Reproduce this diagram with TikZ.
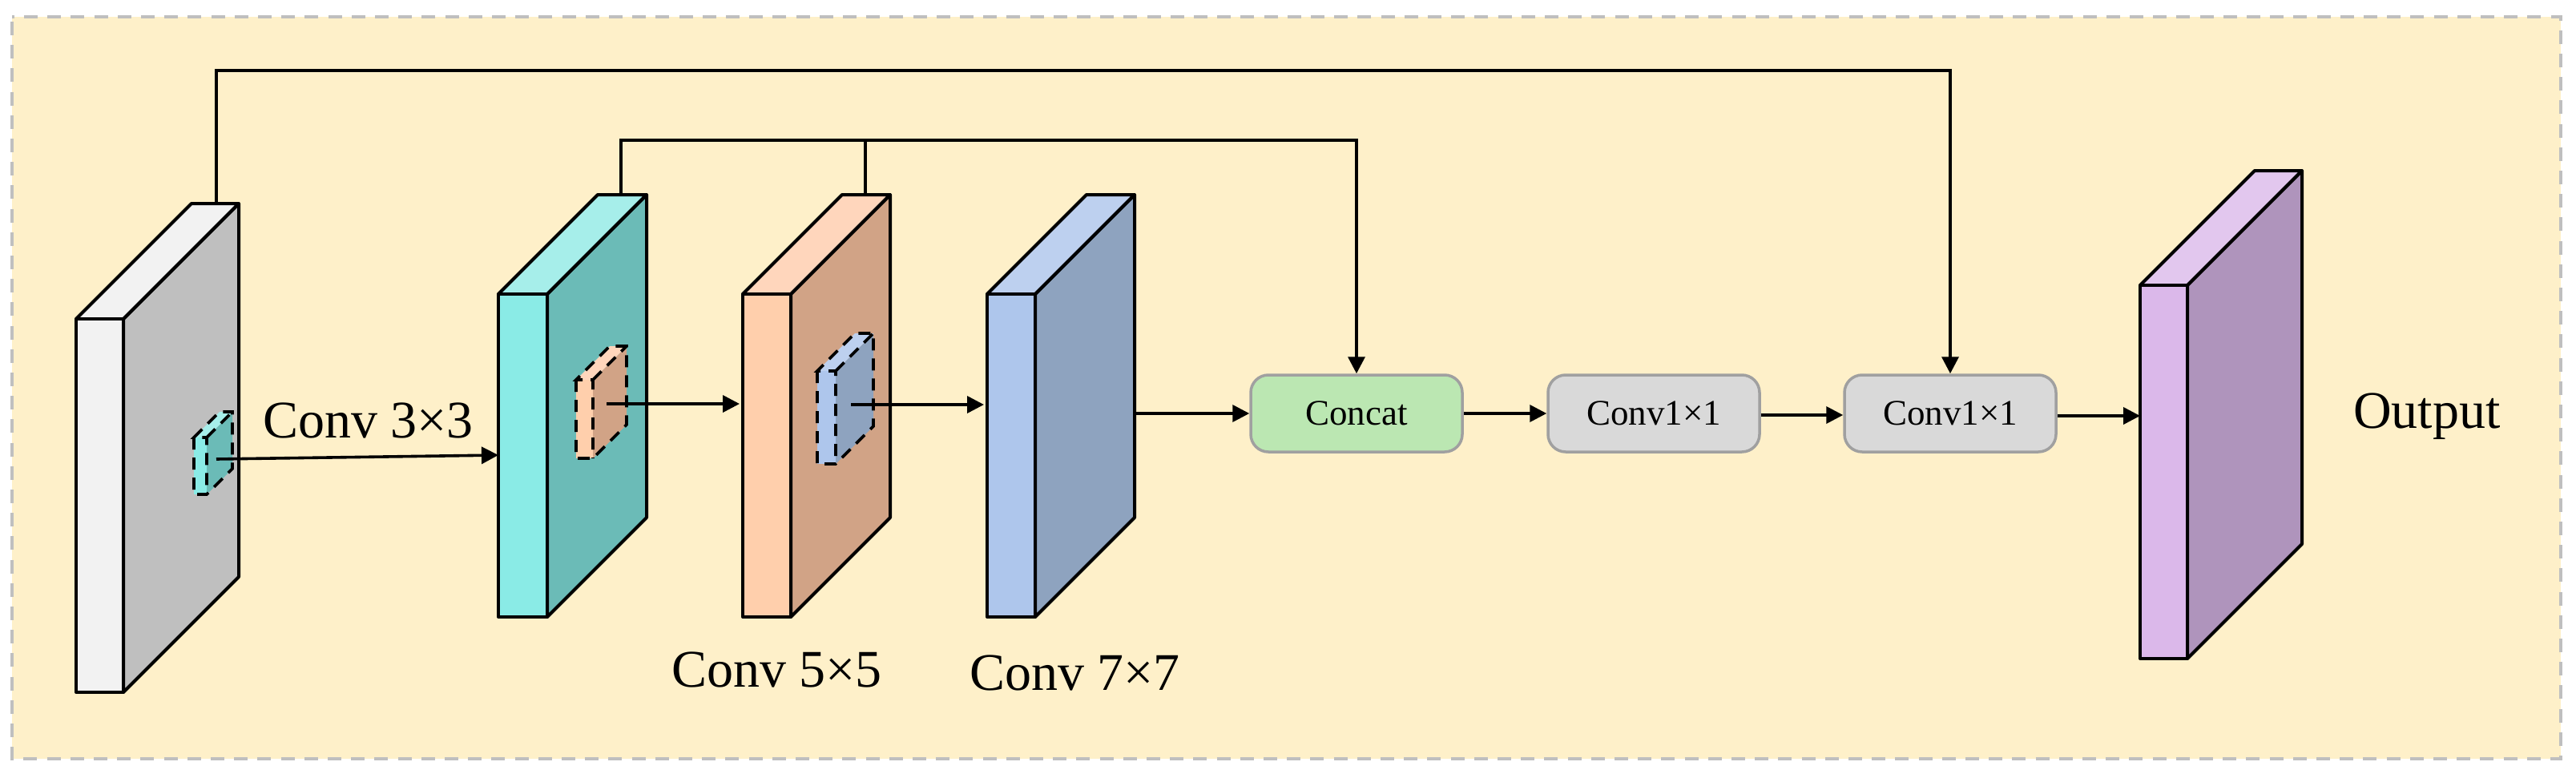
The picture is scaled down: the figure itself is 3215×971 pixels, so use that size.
\documentclass[tikz,border=0pt]{standalone}
\usepackage{fontspec}
\setmainfont{Liberation Serif}
\usetikzlibrary{arrows.meta,calc}
\definecolor{bgc}{HTML}{FEF0C9}
\definecolor{framec}{HTML}{BFBFBF}
\definecolor{gf}{HTML}{F2F2F2}\definecolor{gt}{HTML}{F2F2F2}\definecolor{gs}{HTML}{BFBFBF}
\definecolor{cf}{HTML}{8AEBE6}\definecolor{ct}{HTML}{A6EEEA}\definecolor{cs}{HTML}{6BBBB7}
\definecolor{of}{HTML}{FFCFAC}\definecolor{ot}{HTML}{FFD6BC}\definecolor{os}{HTML}{D1A386}
\definecolor{bf}{HTML}{AEC6EC}\definecolor{bt}{HTML}{BDD0EF}\definecolor{bs}{HTML}{8EA3BF}
\definecolor{pf}{HTML}{DBB8EA}\definecolor{pt}{HTML}{E2C7EE}\definecolor{ps}{HTML}{AF94BC}
\definecolor{concatc}{HTML}{BBE7B2}\definecolor{convc}{HTML}{D9D9D9}\definecolor{edgec}{HTML}{A0A0A0}
\newcommand{\slab}[9]{%
  \coordinate (#1fl) at (#2,#4);\coordinate (#1fr) at (#3,#4);
  \coordinate (#1bl) at (#2,#5);\coordinate (#1br) at (#3,#5);
  \coordinate (#1tl) at ($(#1fl)+(#6,-#6)$);\coordinate (#1tr) at ($(#1fr)+(#6,-#6)$);
  \coordinate (#1sb) at ($(#1br)+(#6,-#6)$);
  \path[fill=#9,slabline] (#1fr) -- (#1tr) -- (#1sb) -- (#1br) -- cycle;
  \path[fill=#8,slabline] (#1fl) -- (#1tl) -- (#1tr) -- (#1fr) -- cycle;
  \path[fill=#7,slabline] (#1fl) -- (#1fr) -- (#1br) -- (#1bl) -- cycle;
}
\tikzset{
  x=1pt,y=-1pt,
  slabline/.style={draw=black,line width=4pt,line join=round},
  conn/.style={draw=black,line width=3.6pt},
  arr/.style={conn,-{Triangle[length=21pt,width=21pt]}},
  opbox/.style={draw=edgec,line width=3.5pt,rounded corners=22pt,minimum width=264pt,minimum height=96pt,inner sep=0pt,font=\fontsize{45}{50}\selectfont},
  lbl/.style={inner sep=0pt,anchor=base west,font=\fontsize{66}{70}\selectfont},
}
\newcommand{\patch}[9]{%
  \coordinate (#1fl) at (#2,#4);\coordinate (#1fr) at (#3,#4);
  \coordinate (#1bl) at (#2,#5);\coordinate (#1br) at (#3,#5);
  \coordinate (#1tl) at ($(#1fl)+(#6,-#6)$);\coordinate (#1tr) at ($(#1fr)+(#6,-#6)$);
  \coordinate (#1sb) at ($(#1br)+(#6,-#6)$);
  \fill[#9] (#1fr) -- (#1tr) -- (#1sb) -- (#1br) -- cycle;
  \fill[#8] (#1fl) -- (#1tl) -- (#1tr) -- (#1fr) -- cycle;
  \fill[#7] (#1fl) -- (#1fr) -- (#1br) -- (#1bl) -- cycle;
  \draw[black,line width=3.6pt,dash pattern=on 15pt off 10pt]
    (#1fl) -- (#1bl) -- (#1br) -- (#1sb) -- (#1tr) -- (#1tl) -- (#1fl) -- (#1fr) -- (#1br)
    (#1fr) -- (#1tr);
}
\begin{document}
\begin{tikzpicture}
\useasboundingbox (0,0) rectangle (3215,971);
\fill[white] (0,0) rectangle (3215,971);
\fill[bgc] (15,21) rectangle (3196,947);
\draw[framec,line width=4.5pt,dash pattern=on 17pt off 12.2pt,dash phase=-6pt] (15,21) rectangle (3196,947);

\slab{a}{95}{154}{398}{864}{144}{gf}{gt}{gs}
\slab{b}{622}{683}{367}{770}{124}{cf}{ct}{cs}
\slab{c}{927}{987}{367}{770}{124}{of}{ot}{os}
\slab{d}{1232}{1292}{367}{770}{124}{bf}{bt}{bs}
\slab{e}{2671}{2730}{356}{822}{143}{pf}{pt}{ps}

\patch{pa}{242}{258}{546}{617}{32}{cf}{ct}{cs}
\patch{pb}{719}{740}{474}{572}{42}{of}{ot}{os}
\patch{pc}{1020}{1043}{463}{579}{47}{bf}{bt}{bs}

\node[opbox,fill=concatc] (concat) at (1693,516) {Concat};
\node[opbox,fill=convc] (convA) at (2064,516) {Conv1×1};
\node[opbox,fill=convc] (convB) at (2434,516) {Conv1×1};

\node[lbl] (l3) at (328,546) {Conv 3×3};
\node[lbl] (l5) at (838,857) {Conv 5×5};
\node[lbl] (l7) at (1210,861) {Conv 7×7};
\node[lbl] (lo) at (2937,534) {Output};

\coordinate (s1) at (270,573);\coordinate (e1) at (622,568);
\coordinate (s2) at (757,504);\coordinate (e2) at (923,504);
\coordinate (s3) at (1062,505);\coordinate (e3) at (1228,505);
\coordinate (s4) at (1418,516);
\coordinate (t1) at (270,254);\coordinate (t2) at (775,243);\coordinate (t3) at (1080,243);
\coordinate (r2) at (1080,175);\coordinate (r1) at (270,88);
\coordinate (oin) at (2671,519);

\draw[arr] (s1) -- (e1);
\draw[arr] (s2) -- (e2);
\draw[arr] (s3) -- (e3);
\draw[arr] (s4) -- (concat.west);
\draw[arr] (concat.east) -- (convA.west);
\draw[arr] ($(convA.east)+(0,2)$) -- ($(convB.west)+(0,2)$);
\draw[arr] (convB.east |- oin) -- (oin);
\draw[arr] (t1) -- (r1) -| (convB.north);
\draw[conn] (t2) |- (r2);
\draw[conn] (t3) -- (r2);
\draw[arr] (r2) -| (concat.north);
\end{tikzpicture}
\end{document}
